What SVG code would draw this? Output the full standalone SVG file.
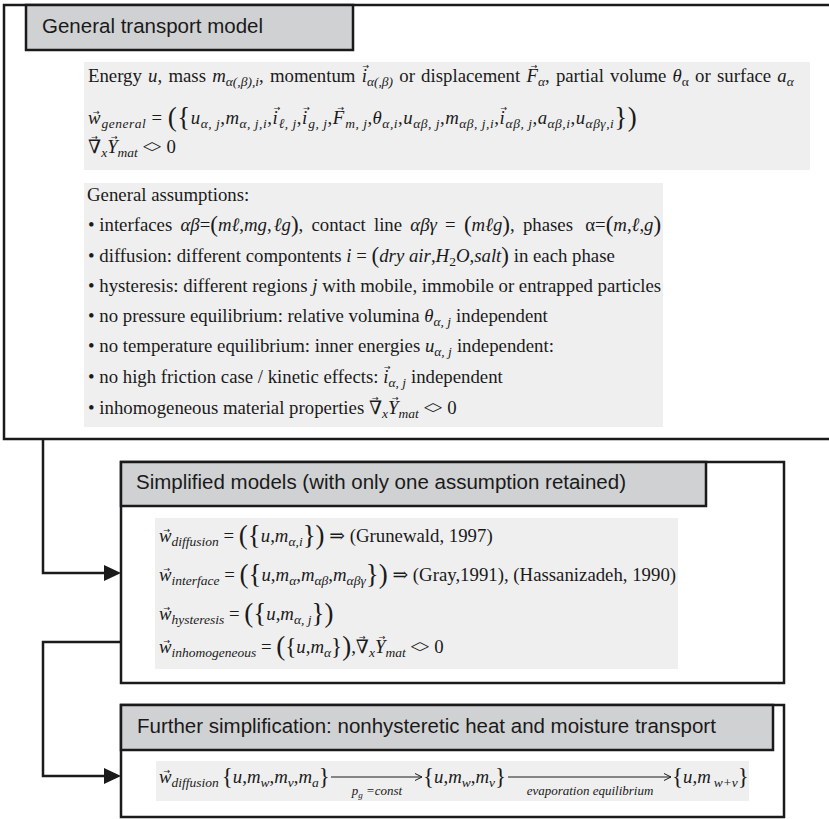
<svg xmlns="http://www.w3.org/2000/svg" width="829" height="819" viewBox="0 0 829 819">
<style>
.box{fill:#fff;stroke:#1a1a1a;stroke-width:2.5}
.title{fill:#d0d1d3;stroke:#1a1a1a;stroke-width:2.5}
.panel{fill:#efefef}
.conn{fill:none;stroke:#1a1a1a;stroke-width:2.5}
.ah{fill:#1a1a1a}
.t{font-family:"Liberation Sans",Arial,sans-serif;font-size:20.5px;fill:#1a1a1a}
.s{font-family:"Liberation Serif","DejaVu Serif",serif;font-size:18.8px;fill:#1a1a1a}
.i{font-style:italic}
.sub{font-size:13.5px;baseline-shift:-4px}
.big{font-size:27px;baseline-shift:-2px}
.mid{font-size:23px;baseline-shift:-1px}
.v{font-family:"DejaVu Sans",sans-serif;font-size:8px;font-style:normal}
.ne{letter-spacing:-2px}
.lbl{font-family:"Liberation Serif","DejaVu Serif",serif;font-size:13px;font-style:italic;fill:#1a1a1a}
.ar{fill:none;stroke:#1a1a1a;stroke-width:1}
</style>

<g id="general-transport-model">
<rect class="box" x="4" y="5" width="840" height="434"/>
<rect class="title" x="26" y="5" width="327" height="45"/>
<text class="t" x="42" y="33">General transport model</text>
<rect class="panel" x="84" y="62" width="726" height="108"/>
<text class="s" x="88" y="82" word-spacing="1.5">Energy <tspan class="i">u</tspan>, mass <tspan class="i">m</tspan><tspan class="sub i">α(,β),i</tspan>, momentum <tspan class="i">i</tspan><tspan class="v" dx="-4.5" dy="-12.6">→</tspan><tspan class="sub i" dx="-2.2" dy="12.6">α(,β)</tspan> or displacement <tspan class="i">F</tspan><tspan class="v" dx="-7.1" dy="-13.2">→</tspan><tspan class="sub i" dx="0.4" dy="13.2">α</tspan>, partial volume <tspan class="i">θ</tspan><tspan class="sub">α</tspan> or surface <tspan class="i">a</tspan><tspan class="sub i">α</tspan></text>
<text class="s" x="88" y="124" letter-spacing="0.5"><tspan class="i">w</tspan><tspan class="v" dx="-8.1" dy="-8.6">→</tspan><tspan class="sub i" dx="1.4" dy="8.6">general</tspan> = <tspan class="big">(</tspan><tspan class="big">{</tspan><tspan class="i">u</tspan><tspan class="sub i">α, j</tspan>,<tspan class="i">m</tspan><tspan class="sub i">α, j,i</tspan>,<tspan class="i">i</tspan><tspan class="v" dx="-4.5" dy="-12.6">→</tspan><tspan class="sub i" dx="-2.2" dy="12.6">ℓ, j</tspan>,<tspan class="i">i</tspan><tspan class="v" dx="-4.5" dy="-12.6">→</tspan><tspan class="sub i" dx="-2.2" dy="12.6">g, j</tspan>,<tspan class="i">F</tspan><tspan class="v" dx="-7.1" dy="-13.2">→</tspan><tspan class="sub i" dx="0.4" dy="13.2">m, j</tspan>,<tspan class="i">θ</tspan><tspan class="sub i">α,i</tspan>,<tspan class="i">u</tspan><tspan class="sub i">αβ, j</tspan>,<tspan class="i">m</tspan><tspan class="sub i">αβ, j,i</tspan>,<tspan class="i">i</tspan><tspan class="v" dx="-4.5" dy="-12.6">→</tspan><tspan class="sub i" dx="-2.2" dy="12.6">αβ, j</tspan>,<tspan class="i">a</tspan><tspan class="sub i">αβ,i</tspan>,<tspan class="i">u</tspan><tspan class="sub i">αβγ,i</tspan><tspan class="big">}</tspan><tspan class="big">)</tspan></text>
<text class="s" x="88" y="153">∇<tspan class="v" dx="-10" dy="-13.2">→</tspan><tspan class="sub i" dx="3.3" dy="13.2">x</tspan><tspan class="i">Y</tspan><tspan class="v" dx="-6.6" dy="-13.2">→</tspan><tspan class="sub i" dx="-0.1" dy="13.2">mat</tspan> <tspan class="ne">&lt;&gt;</tspan><tspan dx="2"> 0</tspan></text>
<rect class="panel" x="84" y="183" width="579" height="244"/>
<text class="s" x="87" y="201">General assumptions:</text>
<text class="s" x="88" y="231">• <tspan word-spacing="3.5">interfaces <tspan class="i">αβ</tspan>=<tspan class="mid">(</tspan><tspan class="i">mℓ</tspan>,<tspan class="i">mg</tspan>,<tspan class="i" dx="2">ℓg</tspan><tspan class="mid">)</tspan>, contact line <tspan class="i">αβγ</tspan> = <tspan class="mid">(</tspan><tspan class="i">mℓg</tspan><tspan class="mid">)</tspan>, phases <tspan dx="4">α=</tspan><tspan class="mid">(</tspan><tspan class="i">m</tspan>,<tspan class="i">ℓ</tspan>,<tspan class="i">g</tspan><tspan class="mid">)</tspan></tspan></text>
<text class="s" x="88" y="262">• diffusion: different compontents <tspan class="i">i</tspan> = <tspan class="mid">(</tspan><tspan class="i">dry air</tspan>,<tspan class="i">H</tspan><tspan class="sub">2</tspan><tspan class="i">O</tspan>,<tspan class="i">salt</tspan><tspan class="mid">)</tspan> in each phase</text>
<text class="s" x="88" y="292">• hysteresis: different regions <tspan class="i">j</tspan> with mobile, immobile or entrapped particles</text>
<text class="s" x="88" y="322">• no pressure equilibrium: relative volumina <tspan class="i">θ</tspan><tspan class="sub i">α, j</tspan><tspan dx="5">independent</tspan></text>
<text class="s" x="88" y="352">• no temperature equilibrium: inner energies <tspan class="i">u</tspan><tspan class="sub i">α, j</tspan><tspan dx="5">independent:</tspan></text>
<text class="s" x="88" y="383">• no high friction case / kinetic effects: <tspan class="i">i</tspan><tspan class="v" dx="-4.5" dy="-12.6">→</tspan><tspan class="sub i" dx="-2.2" dy="12.6">α, j</tspan><tspan dx="5">independent</tspan></text>
<text class="s" x="88" y="414">• inhomogeneous material properties ∇<tspan class="v" dx="-10" dy="-13.2">→</tspan><tspan class="sub i" dx="3.3" dy="13.2">x</tspan><tspan class="i">Y</tspan><tspan class="v" dx="-6.6" dy="-13.2">→</tspan><tspan class="sub i" dx="-0.1" dy="13.2">mat</tspan> <tspan class="ne">&lt;&gt;</tspan><tspan dx="2"> 0</tspan></text>
</g>

<g id="simplified-models">
<rect class="box" x="121" y="462" width="663" height="221"/>
<rect class="title" x="121" y="462" width="585" height="44"/>
<text class="t" x="136" y="489">Simplified models (with only one assumption retained)</text>
<rect class="panel" x="155" y="518" width="523" height="151"/>
<text class="s" x="159" y="542"><tspan class="i">w</tspan><tspan class="v" dx="-8.1" dy="-8.6">→</tspan><tspan class="sub i" dx="1.4" dy="8.6">diffusion</tspan> = <tspan class="big">(</tspan><tspan class="big">{</tspan><tspan class="i">u</tspan>,<tspan class="i">m</tspan><tspan class="sub i">α,i</tspan><tspan class="big">}</tspan><tspan class="big">)</tspan> ⇒ (Grunewald, 1997)</text>
<text class="s" x="159" y="581"><tspan class="i">w</tspan><tspan class="v" dx="-8.1" dy="-8.6">→</tspan><tspan class="sub i" dx="1.4" dy="8.6">interface</tspan> = <tspan class="big">(</tspan><tspan class="big">{</tspan><tspan class="i">u</tspan>,<tspan class="i">m</tspan><tspan class="sub i">α</tspan>,<tspan class="i">m</tspan><tspan class="sub i">αβ</tspan>,<tspan class="i">m</tspan><tspan class="sub i">αβγ</tspan><tspan class="big">}</tspan><tspan class="big">)</tspan> ⇒ (Gray,1991), (Hassanizadeh, 1990)</text>
<text class="s" x="159" y="620"><tspan class="i">w</tspan><tspan class="v" dx="-8.1" dy="-8.6">→</tspan><tspan class="sub i" dx="1.4" dy="8.6">hysteresis</tspan> = <tspan class="big">(</tspan><tspan class="big">{</tspan><tspan class="i">u</tspan>,<tspan class="i">m</tspan><tspan class="sub i">α, j</tspan><tspan class="big">}</tspan><tspan class="big">)</tspan></text>
<text class="s" x="159" y="653"><tspan class="i">w</tspan><tspan class="v" dx="-8.1" dy="-8.6">→</tspan><tspan class="sub i" dx="1.4" dy="8.6">inhomogeneous</tspan> = <tspan class="big">(</tspan><tspan class="mid">{</tspan><tspan class="i">u</tspan>,<tspan class="i">m</tspan><tspan class="sub i">α</tspan><tspan class="mid">}</tspan><tspan class="big">)</tspan>,∇<tspan class="v" dx="-10" dy="-13.2">→</tspan><tspan class="sub i" dx="3.3" dy="13.2">x</tspan><tspan class="i">Y</tspan><tspan class="v" dx="-6.6" dy="-13.2">→</tspan><tspan class="sub i" dx="-0.1" dy="13.2">mat</tspan> <tspan class="ne">&lt;&gt;</tspan><tspan dx="2"> 0</tspan></text>
</g>

<g id="further-simplification">
<rect class="box" x="121" y="705" width="663" height="112"/>
<rect class="title" x="121" y="705" width="652" height="45"/>
<text class="t" x="137" y="733">Further simplification: nonhysteretic heat and moisture transport</text>
<rect class="panel" x="156" y="761" width="593" height="40"/>
<text class="s" x="159" y="783"><tspan class="i">w</tspan><tspan class="v" dx="-8.1" dy="-8.6">→</tspan><tspan class="sub i" dx="1.4" dy="8.6">diffusion</tspan><tspan class="mid" dx="3">{</tspan><tspan class="i">u</tspan>,<tspan class="i">m</tspan><tspan class="sub i">w</tspan>,<tspan class="i">m</tspan><tspan class="sub i">v</tspan>,<tspan class="i">m</tspan><tspan class="sub i">a</tspan><tspan class="mid">}</tspan></text>
<path class="ar" d="M331,777 H422 M415,773.5 L422,777 L415,780.5"/>
<text class="lbl" x="377" y="795" text-anchor="middle"><tspan>p</tspan><tspan font-size="9" baseline-shift="-3">g</tspan> =const</text>
<text class="s" x="423" y="783"><tspan class="mid">{</tspan><tspan class="i">u</tspan>,<tspan class="i">m</tspan><tspan class="sub i">w</tspan>,<tspan class="i">m</tspan><tspan class="sub i">v</tspan><tspan class="mid">}</tspan></text>
<path class="ar" d="M508,777 H671 M664,773.5 L671,777 L664,780.5"/>
<text class="lbl" x="590" y="795" text-anchor="middle">evaporation equilibrium</text>
<text class="s" x="672" y="783"><tspan class="mid">{</tspan><tspan class="i">u</tspan>,<tspan class="i">m</tspan><tspan class="sub i" dx="3">w+v</tspan><tspan class="mid">}</tspan></text>
</g>

<g id="connectors">
<path class="conn" d="M43,439 V573 H105"/>
<polygon class="ah" points="104,565 121,573 104,581"/>
<path class="conn" d="M121,642 H43 V776 H105"/>
<polygon class="ah" points="104,768 121,776 104,784"/>
</g>
</svg>
